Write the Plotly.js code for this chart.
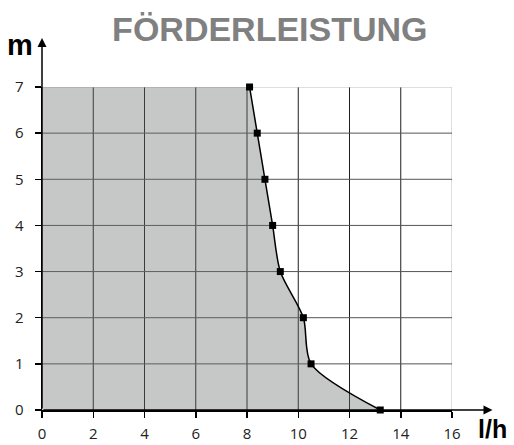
<!DOCTYPE html>
<html><head><meta charset="utf-8">
<script src="https://cdn.plot.ly/plotly-3.0.1.min.js"></script>
<style>html,body{margin:0;padding:0;background:#fff}#c{width:514px;height:445px}</style>
</head><body><div id="c"></div>
<script>
const titleText = "FÖRDERLEISTUNG";
const flow = [13.2, 10.5, 10.2, 9.3, 9.0, 8.7, 8.4, 8.1];   // l/h
const head = [0, 1, 2, 3, 4, 5, 6, 7];                        // m
const xTicks = [0, 2, 4, 6, 8, 10, 12, 14, 16];
const yTicks = [0, 1, 2, 3, 4, 5, 6, 7];
const xLabel = "l/h";
const yLabel = "m";

const xMax = 16, yMax = 7;
const shapes = [];
xTicks.filter(v => v > 0).forEach(v => shapes.push({
  type: 'line', xref: 'x', yref: 'y', x0: v, x1: v, y0: 0, y1: yMax, layer: 'below',
  line: {color: v === xMax ? '#bdbdbd' : '#1e1e1e', width: 1}
}));
yTicks.filter(v => v > 0).forEach(v => shapes.push({
  type: 'line', xref: 'x', yref: 'y', x0: 0, x1: xMax, y0: v, y1: v, layer: 'below',
  line: {color: v === yMax ? '#bdbdbd' : '#555', width: 1}
}));

const data = [{
  x: flow, y: head, type: 'scatter', mode: 'lines+markers',
  line: {shape: 'spline', smoothing: 0.8, color: '#000', width: 1.5},
  marker: {symbol: 'square', size: 7, color: '#000'},
  fill: 'tozerox', fillcolor: 'rgba(105,110,108,0.38)',
  cliponaxis: false, hoverinfo: 'none'
}];

const tickFont = {family: 'Open Sans, Liberation Sans, sans-serif', size: 15, color: '#222'};
const layout = {
  width: 514, height: 445,
  margin: {l: 42, r: 62, t: 87, b: 35},
  paper_bgcolor: '#fff', plot_bgcolor: '#fff',
  showlegend: false,
  title: {text: titleText, x: 0.525, xanchor: 'center', y: 0.935, yanchor: 'middle',
    font: {family: 'Liberation Sans, Arial, sans-serif', size: 34, color: '#808080', weight: 'bold'}},
  xaxis: {range: [0, xMax], tickvals: xTicks, ticktext: xTicks.map(String), showgrid: false, zeroline: false,
    showline: true, linecolor: '#000', linewidth: 1.5, ticks: 'outside', ticklen: 6, tickcolor: '#000',
    tickwidth: 1.5, tickfont: tickFont, ticklabelstandoff: 3, fixedrange: true},
  yaxis: {range: [0, yMax], tickvals: yTicks, ticktext: yTicks.map(String), showgrid: false, zeroline: false,
    showline: true, linecolor: '#000', linewidth: 1.5, ticks: 'outside', ticklen: 6, tickcolor: '#000',
    tickwidth: 1.5, tickfont: tickFont, ticklabelstandoff: 8, fixedrange: true},
  shapes: shapes,
  annotations: [
    {xref: 'x', yref: 'y', x: 17.58, y: 0, axref: 'x', ayref: 'y', ax: 0, ay: 0, text: '',
      showarrow: true, arrowhead: 2, arrowsize: 1.2, arrowwidth: 1.5, arrowcolor: '#000', standoff: 0},
    {xref: 'x', yref: 'y', x: 0, y: 8.06, axref: 'x', ayref: 'y', ax: 0, ay: 0, text: '',
      showarrow: true, arrowhead: 2, arrowsize: 1.2, arrowwidth: 1.5, arrowcolor: '#000', standoff: 0},
    {xref: 'paper', yref: 'paper', x: -0.054, y: 1.13, xanchor: 'center', yanchor: 'middle', showarrow: false,
      text: '<b>' + yLabel + '</b>', font: {family: 'Liberation Sans, Arial, sans-serif', size: 29, color: '#000'}},
    {xref: 'paper', yref: 'paper', x: 1.14, y: -0.058, xanchor: 'right', yanchor: 'middle', showarrow: false,
      text: '<b>' + xLabel + '</b>', font: {family: 'Liberation Sans, Arial, sans-serif', size: 25, color: '#000'}}
  ]
};
Plotly.newPlot('c', data, layout, {staticPlot: true, displayModeBar: false});
</script></body></html>
